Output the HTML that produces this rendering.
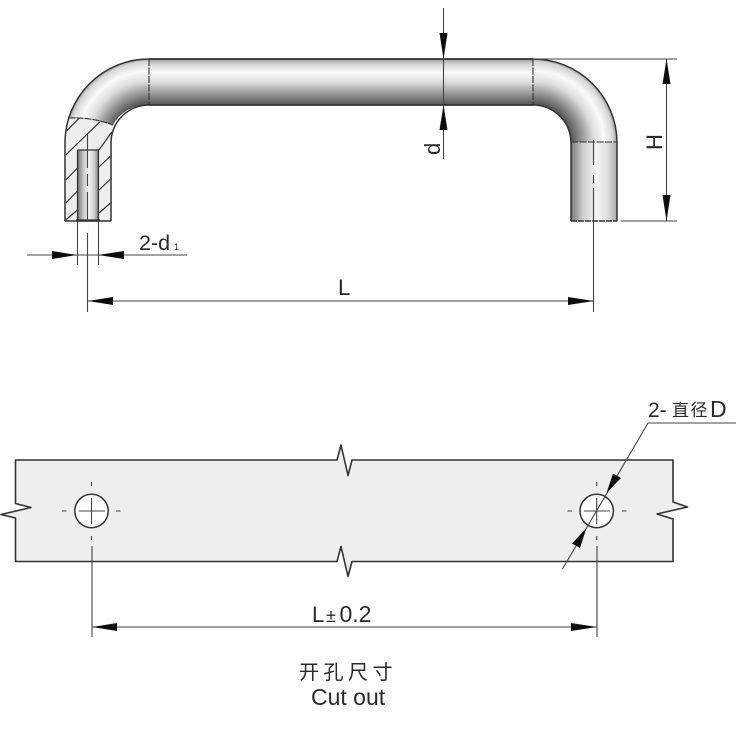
<!DOCTYPE html>
<html><head><meta charset="utf-8"><style>
html,body{margin:0;padding:0;background:#fff}
svg{display:block}
text{font-family:"Liberation Sans","Noto Sans CJK SC",sans-serif;fill:#2a2a2a}
</style></head><body>
<svg width="748" height="744" viewBox="0 0 748 744" xmlns="http://www.w3.org/2000/svg">
<defs>
<filter id="soft" x="0" y="0" width="100%" height="100%"><feGaussianBlur stdDeviation="0.3"/></filter>
<linearGradient id="bar" x1="0" y1="59" x2="0" y2="105" gradientUnits="userSpaceOnUse">
<stop offset="0" stop-color="#999"/><stop offset=".12" stop-color="#d8d8d8"/><stop offset=".3" stop-color="#fafafa"/><stop offset=".5" stop-color="#ddd"/><stop offset=".75" stop-color="#999"/><stop offset="1" stop-color="#555"/>
</linearGradient>
<radialGradient id="bl" cx="149" cy="142" r="84" gradientUnits="userSpaceOnUse">
<stop offset=".452" stop-color="#555"/><stop offset=".59" stop-color="#999"/><stop offset=".72" stop-color="#ddd"/><stop offset=".845" stop-color="#fafafa"/><stop offset=".95" stop-color="#d8d8d8"/><stop offset="1" stop-color="#999"/>
</radialGradient>
<radialGradient id="br" cx="533" cy="142" r="84" gradientUnits="userSpaceOnUse">
<stop offset=".452" stop-color="#555"/><stop offset=".59" stop-color="#999"/><stop offset=".72" stop-color="#ddd"/><stop offset=".845" stop-color="#fafafa"/><stop offset=".95" stop-color="#d8d8d8"/><stop offset="1" stop-color="#999"/>
</radialGradient>
<linearGradient id="leg" x1="571" y1="0" x2="617" y2="0" gradientUnits="userSpaceOnUse">
<stop offset="0" stop-color="#777"/><stop offset=".25" stop-color="#ccc"/><stop offset=".55" stop-color="#f4f4f4"/><stop offset=".8" stop-color="#ddd"/><stop offset="1" stop-color="#aaa"/>
</linearGradient>
<linearGradient id="hole" x1="77" y1="0" x2="99" y2="0" gradientUnits="userSpaceOnUse">
<stop offset="0" stop-color="#666"/><stop offset=".3" stop-color="#ccc"/><stop offset=".55" stop-color="#f2f2f2"/><stop offset=".8" stop-color="#ccc"/><stop offset="1" stop-color="#666"/>
</linearGradient>
</defs>
<g filter="url(#soft)">
<rect width="748" height="744" fill="#fff"/>

<!-- handle -->
<rect x="149" y="59" width="384" height="46" fill="url(#bar)"/>
<path d="M68.5 118A84 84 0 0 1 149 58.5V105A38 38 0 0 0 113 125Q92 117 68.5 118Z" fill="url(#bl)"/>
<path d="M533 59A84 84 0 0 1 617 142H571A38 38 0 0 0 533 105Z" fill="url(#br)"/>
<rect x="571" y="142" width="46" height="79" fill="url(#leg)"/>
<path d="M68.5 118Q92 117 113 125Q111 133 111 142V221H65V142Q65 130 68.5 118Z" fill="#eee"/>
<rect x="77.5" y="150" width="21" height="70" fill="url(#hole)"/>

<g fill="none" stroke="#333" stroke-width="1.2">
<path d="M65.7 131.7L79 118.3M65.7 155L100 121.7M65.7 180L77.5 168M99 150L111.7 132M65.7 203L77.5 191M99 167L111.7 155M99 190L111.7 178M99 213L111.7 202M65.7 220L77.5 210"/>
</g>
<g fill="none" stroke="#333">
<path d="M149 59H533" stroke-width="1.8"/>
<path d="M149 105H533" stroke-width="1.8"/>
<path d="M65 221V142A84 84 0 0 1 149 59" stroke-width="1.5"/>
<path d="M111 221V142A38 38 0 0 1 149 105" stroke-width="1.5"/>
<path d="M533 59A84 84 0 0 1 617 142V221" stroke-width="1.5"/>
<path d="M533 105A38 38 0 0 1 571 142V221" stroke-width="1.5"/>
<path d="M65 221H111" stroke-width="1.4"/>
<path d="M571 221H617" stroke-width="1.4" stroke-dasharray="6 1"/>
<path d="M68.5 118Q92 117 113 125" stroke-width="1.1" stroke-dasharray="7 1"/>
<path d="M149 59V105M533 59V105M571 142H617" stroke-width="1.1" stroke-dasharray="7 1.5"/>
<path d="M77.5 150H98.5V220M77.5 150V220" stroke-width="1.2"/>
<path d="M76 220.5H100" stroke-width="2.2"/>
</g>

<!-- cut-out plate -->
<path d="M15.5 460H337L341 445L348 475.5L352 460H673V502L687.5 507L657 514L673 519V561.5H352L348 576.5L341 546.5L337 561.5H15.5V518L1 514.5L31 507.5L15.5 503.5Z" fill="#eee" stroke="#333" stroke-width="1.6" stroke-linejoin="round"/>
<g fill="#fff" stroke="#333" stroke-width="1.5">
<circle cx="91.5" cy="511" r="16.7"/>
<circle cx="596.7" cy="511" r="16.7"/>
</g>

<!-- dimension lines -->
<g fill="none" stroke="#444" stroke-width="1.1">
<path d="M443.5 8V159"/>
<path d="M533 59H677M621 221H677M666.5 59V221"/>
<path d="M88 301H594"/>
<path d="M87.5 133V168M87.5 174V186M87.5 192V312"/>
<path d="M593.5 140V165M593.5 175V183M593.5 188V312"/>
<path d="M27 255H187"/>
<path d="M77.5 221V265M98.5 221V265"/>
<path d="M648 423H736M648 423L562.5 569"/>
<path d="M92 627H597M92 546V637M597 546V637"/>
<path d="M79 511H105M91.5 498V524M91.5 482V486M91.5 536V540M62 511H66.5M116 511H120.5"/>
<path d="M584 511H610M596.7 498V524M596.7 482V486M596.7 536V540M567.5 511H572M622 511H626.5"/>
</g>
<path d="M87.5 222V233" stroke="#fff" stroke-width="1.5"/>
<g fill="#111">
<path d="M443.5 59L439.5 33H447.5Z"/>
<path d="M443.5 105L439.5 130H447.5Z"/>
<path d="M666.5 59L662.5 84H670.5Z"/>
<path d="M666.5 221L662.5 195H670.5Z"/>
<path d="M88 301L113 297V305Z"/>
<path d="M594 301L568 297V305Z"/>
<path d="M77 255L52 251V259Z"/>
<path d="M98 255L124 251V259Z"/>
<path d="M92 627L117 623V631Z"/>
<path d="M597 627L571 623V631Z"/>
<path d="M606.5 493L613 473.5L621 478Z"/>
<path d="M586.5 528L580 548L572 543.5Z"/>
</g>

<!-- labels -->
<text x="139" y="250" font-size="21.5">2-d</text>
<text x="174" y="250" font-size="9">1</text>
<text x="338" y="295" font-size="22">L</text>
<text transform="translate(440,155) rotate(-90)" font-size="22">d</text>
<text transform="translate(662,150) rotate(-90)" font-size="22">H</text>
<text x="648" y="417" font-size="21">2-</text>
<text x="672" y="416" font-size="17" letter-spacing="1.5">直径</text>
<text x="710" y="417" font-size="23">D</text>
<text x="312" y="622" font-size="22">L</text>
<text x="326" y="622" font-size="18">±</text>
<text x="339.5" y="622" font-size="23">0.2</text>
<text x="299" y="679" font-size="20" letter-spacing="4.5">开孔尺寸</text>
<text x="311" y="705" font-size="23">Cut out</text>
</g>
</svg>
</body></html>
